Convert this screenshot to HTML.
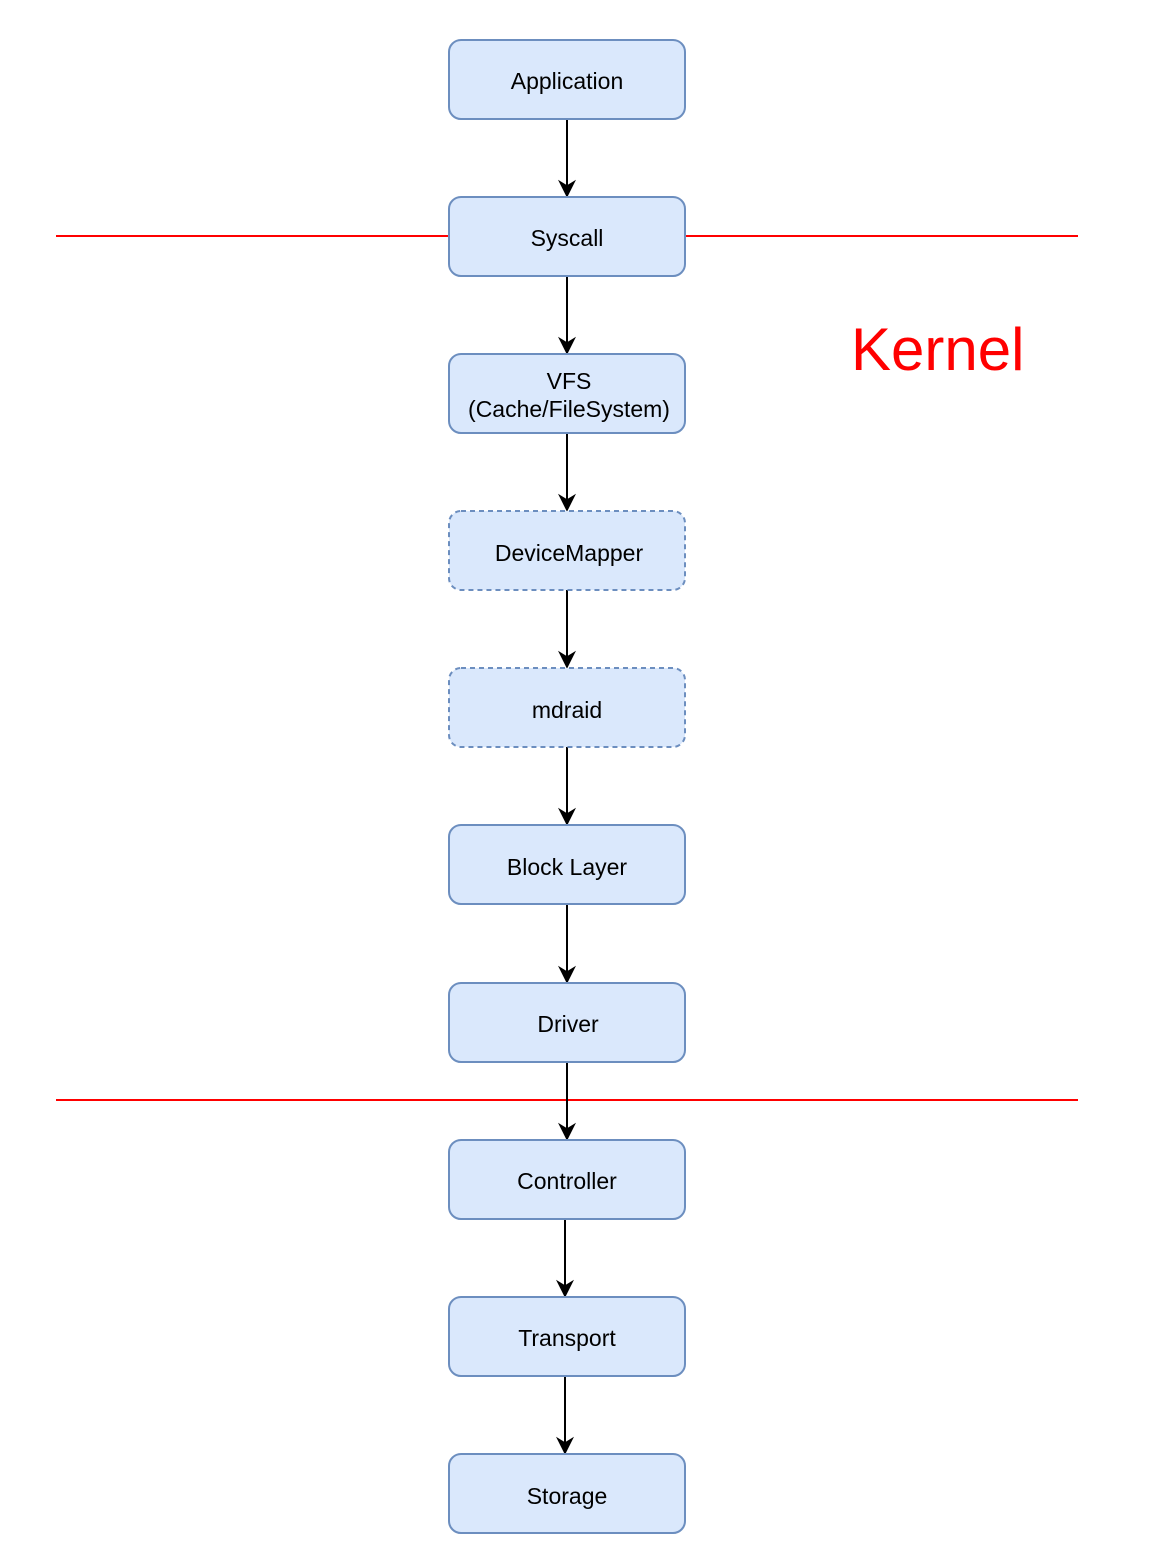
<!DOCTYPE html>
<html><head><style>html,body{margin:0;padding:0;background:#fff}</style></head>
<body>
<svg width="1156" height="1552" xmlns="http://www.w3.org/2000/svg" font-family="Liberation Sans, sans-serif">
<defs>
<marker id="b" viewBox="0 0 10 10" refX="9" refY="5" markerWidth="20" markerHeight="18" markerUnits="userSpaceOnUse" orient="auto"><path d="M0,0 L10,5 L0,10 L3,5 z" fill="#000"/></marker></defs>
<g stroke="#f00" stroke-width="2">
<line x1="56" y1="236" x2="449" y2="236"/><line x1="685" y1="236" x2="1078" y2="236"/>
<line x1="56" y1="1100" x2="1078" y2="1100"/></g>
<g stroke="#000" stroke-width="2" marker-end="url(#b)">
<line x1="567" y1="119" x2="567" y2="196"/>
<line x1="567" y1="276" x2="567" y2="353"/>
<line x1="567" y1="433" x2="567" y2="510"/>
<line x1="567" y1="590" x2="567" y2="667"/>
<line x1="567" y1="747" x2="567" y2="824"/>
<line x1="567" y1="904" x2="567" y2="982"/>
<line x1="567" y1="1062" x2="567" y2="1139"/>
<line x1="565" y1="1219" x2="565" y2="1296"/>
<line x1="565" y1="1376" x2="565" y2="1453"/>
</g>
<g fill="#dae8fc" stroke="#6c8ebf" stroke-width="2">
<rect x="449" y="40" width="236" height="79" rx="12"/>
<rect x="449" y="197" width="236" height="79" rx="12"/>
<rect x="449" y="354" width="236" height="79" rx="12"/>
<rect x="449" y="511" width="236" height="79" rx="12" stroke-dasharray="5,4"/>
<rect x="449" y="668" width="236" height="79" rx="12" stroke-dasharray="5,4"/>
<rect x="449" y="825" width="236" height="79" rx="12"/>
<rect x="449" y="983" width="236" height="79" rx="12"/>
<rect x="449" y="1140" width="236" height="79" rx="12"/>
<rect x="449" y="1297" width="236" height="79" rx="12"/>
<rect x="449" y="1454" width="236" height="79" rx="12"/>
</g>
<g font-size="23" text-anchor="middle" fill="#000">
<text x="567" y="89">Application</text>
<text x="567" y="246">Syscall</text>
<text x="569" y="389">VFS</text>
<text x="569" y="417">(Cache/FileSystem)</text>
<text x="569" y="561">DeviceMapper</text>
<text x="567" y="718">mdraid</text>
<text x="567" y="875">Block Layer</text>
<text x="568" y="1032">Driver</text>
<text x="567" y="1189">Controller</text>
<text x="567" y="1346">Transport</text>
<text x="567" y="1504">Storage</text>
</g>
<text x="851" y="370" font-size="60" fill="#f00">Kernel</text>
</svg>
</body></html>
